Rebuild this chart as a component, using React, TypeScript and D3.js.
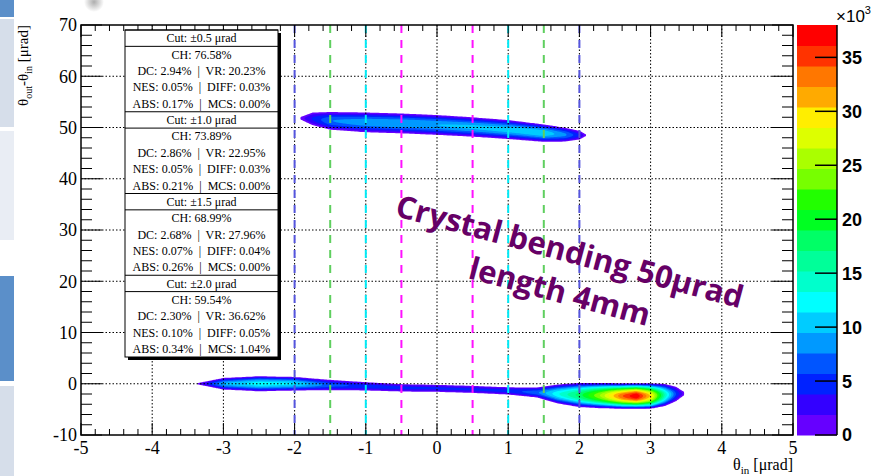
import * as d3 from "d3";
import React, { useEffect, useRef } from "react";

const W = 875;
const H = 476;
const FRAME = { left: 81, right: 793, top: 25, bottom: 435 };
const BAR = { left: 797, right: 837 };

const xTicks = [-5, -4, -3, -2, -1, 0, 1, 2, 3, 4, 5];
const yTicks = [-10, 0, 10, 20, 30, 40, 50, 60, 70];
const zTicks = [0, 5, 10, 15, 20, 25, 30, 35];
const zMax = 38;

// ROOT rainbow palette, 20 contour levels (bottom -> top)
const palette = [
  "#6600ff", "#3300ff", "#0022ff", "#0055ff", "#0099ff",
  "#00ccff", "#00ffff", "#00ffcc", "#00ff99", "#00ff66",
  "#00ff22", "#22ff00", "#77ff00", "#aaff00", "#ddff00",
  "#ffee00", "#ffaa00", "#ff7700", "#ff3300", "#ff0000",
];

// angular cuts drawn as dashed lines
const cutX = [-2, -1.5, -1, -0.5, 0.5, 1, 1.5, 2];
const cutColor = ["#5555dd", "#5fcf5f", "#00eaf5", "#ff11ff", "#ff11ff", "#00eaf5", "#5fcf5f", "#5555dd"];

// legend values
const cutLabels = ["±0.5", "±1.0", "±1.5", "±2.0"];
const chPct = ["76.58", "73.89", "68.99", "59.54"];
const dcPct = ["2.94", "2.86", "2.68", "2.30"];
const vrPct = ["20.23", "22.95", "27.96", "36.62"];
const nesPct = ["0.05", "0.05", "0.07", "0.10"];
const diffPct = ["0.03", "0.03", "0.04", "0.05"];
const absPct = ["0.17", "0.21", "0.26", "0.34"];
const mcsPct = ["0.00", "0.00", "0.00", "1.04"];

// ridge of the lower (reflected / VR) population: θin, centre, half width, peak (×10³)
const lowX = [-3.35, -3.0, -2.5, -2.0, -1.5, -1.0, -0.5, 0.0, 0.5, 1.0, 1.4, 1.7, 2.0, 2.3, 2.6, 2.8, 3.0, 3.2, 3.35, 3.47];
const lowC = [0.0, 0.0, 0.0, 0.0, -0.25, -0.5, -0.8, -0.9, -1.1, -1.4, -1.7, -2.0, -2.2, -2.3, -2.4, -2.4, -2.4, -2.2, -2.0, -1.9];
const lowHW = [0.2, 1.15, 1.5, 1.35, 1.05, 0.85, 0.75, 0.72, 0.72, 0.75, 1.0, 1.9, 2.4, 2.5, 2.5, 2.5, 2.5, 2.2, 1.5, 0.4];
const lowPeak = [1.0, 9.5, 12.5, 11.5, 6.5, 5.0, 4.5, 4.2, 4.2, 4.5, 7.0, 13.0, 18.0, 25.0, 34.0, 38.0, 30.0, 15.0, 6.0, 1.0];

// ridge of the upper (channeled / CH) population
const upX = [-1.92, -1.75, -1.5, -1.0, -0.5, 0.0, 0.5, 1.0, 1.5, 1.8, 2.0, 2.08];
const upC = [51.8, 51.7, 51.3, 51.0, 50.8, 50.5, 50.1, 49.6, 48.9, 48.6, 48.5, 48.5];
const upHW = [0.3, 1.3, 1.8, 2.0, 2.0, 2.0, 1.95, 1.9, 1.75, 1.4, 0.9, 0.3];
const upPeak = [0.8, 4.0, 7.5, 9.0, 9.5, 9.5, 10.0, 10.5, 11.0, 8.0, 4.0, 1.0];

const lerpAt = (xs: number[], ys: number[], x: number): number | null => {
  if (x <= xs[0] || x >= xs[xs.length - 1]) return null;
  let k = 0;
  while (xs[k + 1] < x) k++;
  const t = (x - xs[k]) / (xs[k + 1] - xs[k]);
  return ys[k] + (ys[k + 1] - ys[k]) * t;
};

const App: React.FC = () => {
  const svgRef = useRef<SVGSVGElement>(null);

  useEffect(() => {
    draw();
  }, []);

  const draw = () => {
    const svg = d3.select(svgRef.current);
    svg.selectAll("*").remove();

    const x = d3.scaleLinear().domain([-5, 5]).range([FRAME.left, FRAME.right]);
    const y = d3.scaleLinear().domain([-10, 70]).range([FRAME.bottom, FRAME.top]);
    const z = d3.scaleLinear().domain([0, zMax]).range([FRAME.bottom, FRAME.top]);

    svg.append("rect").attr("width", W).attr("height", H).attr("fill", "white");

    // slide strip on the left edge
    const strips = [
      [0, 17, "#5b8fc9"], [19, 127, "#d6deea"], [131, 240, "#e9edf4"],
      [276, 381, "#5b8fc9"], [386, 476, "#d6deea"],
    ] as [number, number, string][];
    strips.forEach(([a, b, c]) =>
      svg.append("rect").attr("x", 0).attr("y", a).attr("width", 14).attr("height", b - a).attr("fill", c)
    );
    const grad = svg.append("defs").append("radialGradient").attr("id", "smudge");
    grad.append("stop").attr("offset", "0%").attr("stop-color", "#999").attr("stop-opacity", 0.8);
    grad.append("stop").attr("offset", "100%").attr("stop-color", "#999").attr("stop-opacity", 0);
    svg.append("circle").attr("cx", 94).attr("cy", 2).attr("r", 10).attr("fill", "url(#smudge)");

    // density grid -> filled contours
    const nx = 401, ny = 801, x0 = -5, dx = 0.025, y0 = -10, dy = 0.1;
    const values = new Array(nx * ny).fill(0);
    const bands = [
      [lowX, lowC, lowHW, lowPeak],
      [upX, upC, upHW, upPeak],
    ];
    for (let i = 0; i < nx; i++) {
      const xv = x0 + i * dx;
      bands.forEach(([bx, bc, bw, bp]) => {
        const c = lerpAt(bx, bc, xv);
        if (c === null) return;
        const hw = lerpAt(bx, bw, xv) as number;
        const p = lerpAt(bx, bp, xv) as number;
        const j0 = Math.max(0, Math.floor((c - hw - y0) / dy));
        const j1 = Math.min(ny - 1, Math.ceil((c + hw - y0) / dy));
        for (let j = j0; j <= j1; j++) {
          const u = (y0 + j * dy - c) / hw;
          if (Math.abs(u) < 1) {
            const v = p * Math.pow(1 - u * u, 1.3);
            if (v > values[j * nx + i]) values[j * nx + i] = v;
          }
        }
      });
    }
    const step = zMax / palette.length;
    const levels = palette.map((_, i) => (i === 0 ? 0.3 : i * step));
    const contours = d3.contours().size([nx, ny]).thresholds(levels)(values);
    const proj = d3.geoTransform({
      point(px: number, py: number) {
        // @ts-ignore
        this.stream.point(x(x0 + (px - 0.5) * dx), y(y0 + (py - 0.5) * dy));
      },
    });
    const path = d3.geoPath(proj);
    svg
      .append("g")
      .selectAll("path")
      .data(contours)
      .enter()
      .append("path")
      .attr("d", (d: any) => path(d) as string)
      .attr("fill", (_: any, i: number) => palette[i]);

    // dotted grid
    const grid = svg.append("g").attr("stroke", "#000").attr("stroke-width", 1).attr("stroke-dasharray", "1.5,2");
    xTicks.slice(1, -1).forEach((t) =>
      grid.append("line").attr("x1", x(t)).attr("x2", x(t)).attr("y1", FRAME.top).attr("y2", FRAME.bottom)
    );
    yTicks.slice(1, -1).forEach((t) =>
      grid.append("line").attr("x1", FRAME.left).attr("x2", FRAME.right).attr("y1", y(t)).attr("y2", y(t))
    );

    // cut lines
    cutX.forEach((c, i) =>
      svg
        .append("line")
        .attr("x1", x(c))
        .attr("x2", x(c))
        .attr("y1", FRAME.top)
        .attr("y2", FRAME.bottom)
        .attr("stroke", cutColor[i])
        .attr("stroke-width", 2)
        .attr("stroke-dasharray", "8,7")
    );

    // frame + ticks
    svg
      .append("rect")
      .attr("x", FRAME.left)
      .attr("y", FRAME.top)
      .attr("width", FRAME.right - FRAME.left)
      .attr("height", FRAME.bottom - FRAME.top)
      .attr("fill", "none")
      .attr("stroke", "#000")
      .attr("stroke-width", 1.5);
    const ticks = svg.append("g").attr("stroke", "#000").attr("stroke-width", 1);
    d3.range(-5, 5.001, 0.2).forEach((t) => {
      const major = Math.abs(t - Math.round(t)) < 1e-6;
      const len = major ? 12 : 6;
      ticks.append("line").attr("x1", x(t)).attr("x2", x(t)).attr("y1", FRAME.bottom).attr("y2", FRAME.bottom - len);
      ticks.append("line").attr("x1", x(t)).attr("x2", x(t)).attr("y1", FRAME.top).attr("y2", FRAME.top + len);
    });
    d3.range(-10, 70.001, 2).forEach((t) => {
      const major = t % 10 === 0;
      const len = major ? 21 : 11;
      ticks.append("line").attr("x1", FRAME.left).attr("x2", FRAME.left + len).attr("y1", y(t)).attr("y2", y(t));
      ticks.append("line").attr("x1", FRAME.right).attr("x2", FRAME.right - len).attr("y1", y(t)).attr("y2", y(t));
    });

    const serif = "'Liberation Serif', 'Times New Roman', serif";
    xTicks.forEach((t) =>
      svg
        .append("text")
        .attr("x", x(t))
        .attr("y", 454)
        .attr("text-anchor", "middle")
        .attr("font-family", serif)
        .attr("font-size", 18)
        .text(`${t}`)
    );
    yTicks.forEach((t) =>
      svg
        .append("text")
        .attr("x", 77)
        .attr("y", y(t))
        .attr("dy", "0.35em")
        .attr("text-anchor", "end")
        .attr("font-family", serif)
        .attr("font-size", 18)
        .text(`${t}`)
    );

    // axis titles
    const xt = svg
      .append("text")
      .attr("x", FRAME.right)
      .attr("y", 470)
      .attr("text-anchor", "end")
      .attr("font-family", serif)
      .attr("font-size", 16);
    xt.append("tspan").text("θ");
    xt.append("tspan").attr("font-size", 11).attr("dy", 4).text("in");
    xt.append("tspan").attr("dy", -4).text(" [μrad]");

    const yt = svg
      .append("text")
      .attr("transform", `translate(28,${FRAME.top}) rotate(-90)`)
      .attr("text-anchor", "end")
      .attr("font-family", serif)
      .attr("font-size", 15);
    yt.append("tspan").text("θ");
    yt.append("tspan").attr("font-size", 10).attr("dy", 4).text("out");
    yt.append("tspan").attr("dy", -4).text("-θ");
    yt.append("tspan").attr("font-size", 10).attr("dy", 4).text("in");
    yt.append("tspan").attr("dy", -4).text(" [μrad]");

    // legend box
    const LB = { left: 125, right: 278, top: 30, bottom: 357 };
    const rowH = (LB.bottom - LB.top) / 20;
    svg
      .append("rect")
      .attr("x", LB.left + 3)
      .attr("y", LB.top + 3)
      .attr("width", LB.right - LB.left)
      .attr("height", LB.bottom - LB.top)
      .attr("fill", "#000");
    svg
      .append("rect")
      .attr("x", LB.left)
      .attr("y", LB.top)
      .attr("width", LB.right - LB.left)
      .attr("height", LB.bottom - LB.top)
      .attr("fill", "#fff")
      .attr("stroke", "#000")
      .attr("stroke-width", 1);
    const lcx = (LB.left + LB.right) / 2;
    cutLabels.forEach((cl, k) => {
      const top = LB.top + k * 5 * rowH;
      [top, top + rowH].forEach((ly) =>
        svg
          .append("line")
          .attr("x1", LB.left)
          .attr("x2", LB.right)
          .attr("y1", ly)
          .attr("y2", ly)
          .attr("stroke", "#000")
          .attr("stroke-width", 1)
      );
      const lines = [
        `Cut: ${cl} μrad`,
        `CH: ${chPct[k]}%`,
        `DC: ${dcPct[k]}%  |  VR: ${vrPct[k]}%`,
        `NES: ${nesPct[k]}%  |  DIFF: ${diffPct[k]}%`,
        `ABS: ${absPct[k]}%  |  MCS: ${mcsPct[k]}%`,
      ];
      lines.forEach((s, r) =>
        svg
          .append("text")
          .attr("x", lcx)
          .attr("y", top + (r + 0.5) * rowH)
          .attr("dy", "0.35em")
          .attr("text-anchor", "middle")
          .attr("font-family", serif)
          .attr("font-size", 12)
          .style("white-space", "pre")
          .text(s)
      );
    });

    // colour bar
    palette.forEach((c, i) =>
      svg
        .append("rect")
        .attr("x", BAR.left)
        .attr("y", z((i + 1) * step))
        .attr("width", BAR.right - BAR.left)
        .attr("height", z(i * step) - z((i + 1) * step) + 0.5)
        .attr("fill", c)
    );
    svg
      .append("line")
      .attr("x1", BAR.right)
      .attr("x2", BAR.right)
      .attr("y1", FRAME.top)
      .attr("y2", FRAME.bottom)
      .attr("stroke", "#000")
      .attr("stroke-width", 1.5);
    const sans = "'Liberation Sans', Arial, sans-serif";
    zTicks.forEach((t) => {
      svg
        .append("line")
        .attr("x1", BAR.right - 22)
        .attr("x2", BAR.right)
        .attr("y1", z(t))
        .attr("y2", z(t))
        .attr("stroke", "#000")
        .attr("stroke-width", 1.5);
      svg
        .append("text")
        .attr("x", 842)
        .attr("y", z(t))
        .attr("dy", "0.36em")
        .attr("font-family", sans)
        .attr("font-weight", "bold")
        .attr("font-size", 18)
        .text(`${t}`);
    });
    const exp = svg.append("text").attr("x", 836).attr("y", 22).attr("font-family", sans).attr("font-size", 17);
    exp.append("tspan").text("×10");
    exp.append("tspan").attr("font-size", 11).attr("dy", -8).text("3");

    // annotation
    const ann = [
      ["Crystal bending 50μrad", 567, 262],
      ["length 4mm", 557, 302],
    ] as [string, number, number][];
    ann.forEach(([s, ax, ay]) =>
      svg
        .append("text")
        .attr("transform", `translate(${ax},${ay}) rotate(15)`)
        .attr("text-anchor", "middle")
        .attr("font-family", "'Open Sans', sans-serif")
        .attr("font-weight", "bold")
        .attr("font-size", 31)
        .attr("fill", "#660066")
        .text(s)
    );
  };

  return (
    <svg
      ref={svgRef}
      width={W}
      height={H}
      style={{ position: "absolute", left: 0, top: 0 }}
    />
  );
};

export default App;
